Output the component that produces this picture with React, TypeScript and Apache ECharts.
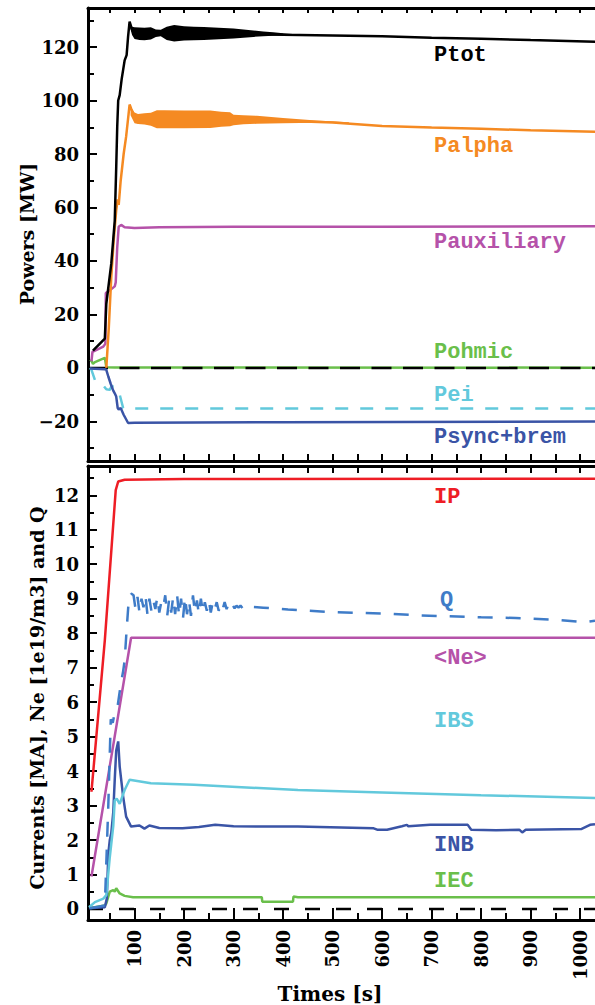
import React, { useEffect, useRef } from "react";
import * as echarts from "echarts";

// ---------- top panel: powers [MW] ----------
const ptotT = [16, 40, 43, 53, 60, 63, 65, 67, 70, 74, 80, 84, 87, 90, 95, 100, 150, 200, 300, 400, 500, 600, 700, 800, 900, 1030];
const ptotV = [6.5, 11, 24, 39, 55, 75, 90, 100, 102, 108, 115, 117, 124, 129.5, 126.5, 125.2, 125, 125.1, 125.1, 124.6, 124.3, 124, 123.5, 123.1, 122.6, 122];
const ptotBandT = [90, 95, 100, 110, 120, 133, 143, 153, 165, 180, 200, 220, 240, 260, 280, 300, 320, 340, 360, 380, 400, 420, 460];
const ptotBandHi = [129.5, 127.6, 127.4, 127.3, 127.2, 127.4, 126.6, 126.5, 127.6, 128.2, 127.8, 127.6, 127.5, 127.3, 127.1, 126.9, 126.6, 126.2, 125.8, 125.5, 125.2, 124.9, 124.6];
const ptotBandLo = [128, 124.5, 123, 122.6, 122.5, 122.8, 123.8, 124, 122.6, 122.1, 122.4, 122.5, 122.6, 122.8, 123, 123.2, 123.5, 123.8, 124, 124.2, 124.3, 124.4, 124.4];

const palphaT = [43, 48, 53, 58, 63, 66, 68, 72, 78, 83, 88, 90, 93, 100, 150, 250, 300, 400, 500, 600, 700, 800, 900, 1030];
const palphaV = [0, 15, 34, 48, 59, 63, 61, 70, 80, 86.5, 95, 98.5, 97, 94, 93.2, 93, 92.8, 92.4, 91.8, 90.5, 89.9, 89.4, 88.9, 88.3];
const palphaBandT = [92, 100, 107, 120, 133, 145, 160, 200, 253, 275, 293, 300, 320, 347, 400, 467, 533];
const palphaBandHi = [97.5, 95.5, 95, 95.2, 95.4, 96.4, 96.4, 96.3, 96.3, 95.8, 95.6, 94.7, 94.5, 94.3, 93.5, 92.5, 91.9];
const palphaBandLo = [94.5, 91.5, 91.2, 91, 90.6, 89.6, 89.6, 89.6, 89.7, 90.2, 90.4, 90.8, 91.1, 91.3, 91.5, 91.7, 91.6];

const pauxT = [13, 15, 37, 41, 42, 50, 60, 62, 65, 68, 73, 80, 100, 150, 300, 600, 1030];
const pauxV = [2.5, 6, 8, 9, 28, 29, 30.5, 32, 45, 52.8, 53.5, 52.6, 52.3, 52.6, 52.8, 52.8, 53];

const pohmicT = [10, 13, 16, 20, 40, 43, 60, 1030];
const pohmicV = [2.5, 2.8, 1.5, 2.2, 3.8, 0.3, 0.2, 0.1];

const peiT = [10, 13, 20, 30, 43, 50, 53, 60, 67, 70, 77, 90, 1030];
const peiV = [0, -0.7, -4.5, -5, -8, -8.2, -7, -6.8, -9.5, -10, -15, -15.2, -15.2];

const psyncT = [10, 40, 43, 47, 52, 57, 60, 63, 66, 68, 72, 78, 87, 100, 400, 1030];
const psyncV = [-0.2, -0.5, -0.7, -3.2, -6, -8.5, -9.5, -10.7, -15, -15.5, -15, -17.5, -20.6, -20.5, -20.3, -20];

// ---------- bottom panel: currents [MA], Ne, Q ----------
const ipT = [13, 40, 62, 67, 80, 200, 1030];
const ipV = [3.4, 7.8, 12.15, 12.4, 12.45, 12.47, 12.48];

const neT = [13, 93, 1030];
const neV = [0.94, 7.87, 7.87];

const qT = [10, 40, 47, 52, 56, 60, 66, 72, 77, 80, 84, 88, 93,
  98, 102, 106, 110, 114, 118, 122, 126, 130, 134, 138, 142, 146, 150, 154, 158, 162, 166, 170, 174, 178, 182, 186, 190,
  194, 198, 202, 206, 210, 214, 218, 222, 226, 230, 234, 238, 242, 246, 250, 254, 258, 262, 266, 270, 274, 278, 282, 286,
  290, 294, 298, 302, 306, 310, 314, 318, 322, 326, 330, 334, 338,
  360, 410, 500, 620, 670, 800, 870, 960, 1010, 1030];
const qV = [0.02, 0.1, 3.0, 5.5, 5.4, 5.7, 5.9, 6.5, 6.9, 7.2, 8.1, 8.9, 9.15,
  9.1, 8.7, 9.05, 8.6, 9.0, 8.75, 9.1, 8.55, 9.0, 8.65, 8.95, 8.7, 9.05, 8.6, 8.9, 8.75, 9.1, 8.5, 9.0, 8.6, 9.05, 8.55, 9.1, 8.5,
  9.0, 8.45, 9.05, 8.55, 8.95, 8.5, 9.1, 8.6, 8.95, 8.55, 9.0, 8.6, 8.9, 8.65, 8.95, 8.6, 8.9, 8.7, 8.9, 8.65, 8.85, 8.7, 8.9, 8.7,
  8.85, 8.72, 8.82, 8.72, 8.8, 8.74, 8.8, 8.73, 8.78, 8.74, 8.77, 8.75, 8.76,
  8.74, 8.69, 8.61, 8.56, 8.52, 8.46, 8.44, 8.38, 8.32, 8.36];

const ibsT = [8, 20, 37, 43, 50, 57, 60, 64, 70, 80, 90, 133, 220, 430, 600, 800, 1030];
const ibsV = [0.05, 0.2, 0.3, 0.4, 1.5, 2.4, 3.15, 3.2, 3.05, 3.45, 3.75, 3.65, 3.6, 3.45, 3.38, 3.3, 3.22];

const inbT = [8, 40, 44, 47, 50, 53, 57, 60, 63, 67, 70, 77, 83, 93, 110, 120, 130, 150, 197, 230, 263, 300, 397, 430, 583, 590, 610, 640, 650, 653, 697, 773, 780, 830, 877, 883, 890, 1003, 1020, 1030];
const inbV = [0.02, 0.05, 0.3, 1.6, 2.0, 2.2, 2.8, 3.75, 4.6, 4.86, 4.13, 3.26, 2.68, 2.39, 2.42, 2.33, 2.42, 2.35, 2.34, 2.38, 2.44, 2.4, 2.39, 2.39, 2.34, 2.3, 2.3, 2.4, 2.44, 2.4, 2.44, 2.44, 2.3, 2.28, 2.3, 2.22, 2.3, 2.32, 2.44, 2.46];

const iecT = [8, 40, 43, 50, 57, 60, 63, 70, 80, 97, 357, 358, 420, 421, 430, 1030];
const iecV = [0.02, 0.1, 0.16, 0.5, 0.55, 0.5, 0.6, 0.45, 0.38, 0.34, 0.34, 0.21, 0.21, 0.36, 0.34, 0.34];

const zeroT = [6, 1030];
const zeroV = [0, 0];

// ticks
const xMajor = [100, 200, 300, 400, 500, 600, 700, 800, 900, 1000];
const xAll = [50, 100, 150, 200, 250, 300, 350, 400, 450, 500, 550, 600, 650, 700, 750, 800, 850, 900, 950, 1000];
const xMinor = [50, 150, 250, 350, 450, 550, 650, 750, 850, 950];
const yTopMajor = [-20, 0, 20, 40, 60, 80, 100, 120];
const yTopMinor = [-30, -10, 10, 30, 50, 70, 90, 110, 130];
const yBotMajor = [0, 1, 2, 3, 4, 5, 6, 7, 8, 9, 10, 11, 12];
const yBotMinor = [0.5, 1.5, 2.5, 3.5, 4.5, 5.5, 6.5, 7.5, 8.5, 9.5, 10.5, 11.5, 12.5];

const C = {
  black: "#000000",
  orange: "#f58a22",
  magenta: "#b552a9",
  green: "#6abf4b",
  cyan: "#62c9dc",
  navy: "#3a54a6",
  red: "#ee1d25",
  qblue: "#3f7cc8",
};

const pairs = (t: number[], v: number[]) => t.map((x, i) => [x, v[i]]);

const line = (name: string, t: number[], v: number[], color: string, gi: number, opts: any = {}) => ({
  name,
  type: "line",
  xAxisIndex: gi === 0 ? 1 : 3,
  yAxisIndex: gi === 0 ? 0 : 2,
  data: pairs(t, v),
  showSymbol: false,
  symbol: "none",
  silent: true,
  clip: true,
  lineStyle: { color, width: 2.5, ...(opts.lineStyle || {}) },
  z: opts.z ?? 3,
});

const band = (t: number[], lo: number[], hi: number[], color: string, gi: number) => ({
  type: "custom",
  coordinateSystem: "cartesian2d",
  xAxisIndex: gi === 0 ? 1 : 3,
  yAxisIndex: gi === 0 ? 0 : 2,
  silent: true,
  z: 4,
  data: [[t[0], lo[0]]],
  renderItem: (_p: any, api: any) => {
    const up = t.map((x, i) => api.coord([x, hi[i]]));
    const dn = t.map((x, i) => api.coord([x, lo[i]])).reverse();
    return { type: "polygon", shape: { points: up.concat(dn) }, style: { fill: color } };
  },
});

const axisLine = { show: true, onZero: false, lineStyle: { color: "#000", width: 3 } };
const tickFont = { fontFamily: "DejaVu Serif", fontWeight: "bold", fontSize: 18, color: "#000" };
const fmt = (v: number) => String(v).replace("-", "\u2212");

const xAx = (gridIndex: number, position: string, ticks: number[], len: number, extra: any = {}) => ({
  type: "value",
  gridIndex,
  position,
  min: 6,
  max: 1030,
  axisLine: extra.noLine ? { show: false, onZero: false } : axisLine,
  axisTick: { show: true, inside: true, length: len, customValues: ticks, lineStyle: { color: "#000", width: 2 } },
  axisLabel: extra.labels
    ? { show: true, customValues: xMajor, rotate: 90, margin: 10, formatter: fmt, ...tickFont }
    : { show: false },
  splitLine: { show: false },
});

const yAx = (gridIndex: number, min: number, max: number, ticks: number[], len: number, labels: boolean) => ({
  type: "value",
  gridIndex,
  position: "left",
  min,
  max,
  axisLine: labels ? axisLine : { show: false, onZero: false },
  axisTick: { show: true, inside: true, length: len, customValues: ticks, lineStyle: { color: "#000", width: 2 } },
  axisLabel: labels ? { show: true, customValues: ticks, margin: 9, formatter: fmt, ...tickFont } : { show: false },
  splitLine: { show: false },
});

const labelFont = "Liberation Mono";
const lbl = (text: string, x: number, y: number, color: string) => ({
  type: "text",
  x,
  y,
  silent: true,
  style: { text, fill: color, font: `bold 22px '${labelFont}'`, textAlign: "left", textVerticalAlign: "middle" },
});

export default function App() {
  const ref = useRef<HTMLDivElement>(null);
  useEffect(() => {
    document.body.style.margin = "0";
    if (!ref.current) return;
    const chart = echarts.init(ref.current, undefined, { renderer: "svg" });
    chart.setOption({
      animation: false,
      backgroundColor: "#ffffff",
      grid: [
        { left: 88, top: 8, width: 512, height: 453 },
        { left: 88, top: 466, width: 512, height: 454 },
      ],
      xAxis: [
        xAx(0, "top", xAll, 5),
        xAx(0, "bottom", xAll, 7),
        xAx(1, "top", xAll, 7),
        xAx(1, "bottom", xMajor, 12, { labels: true }),
        xAx(1, "bottom", xMinor, 7, { noLine: true }),
      ],
      yAxis: [
        yAx(0, -34.8, 134.6, yTopMajor, 9, true),
        yAx(0, -34.8, 134.6, yTopMinor, 6, false),
        yAx(1, -0.32, 12.85, yBotMajor, 9, true),
        yAx(1, -0.32, 12.85, yBotMinor, 6, false),
      ],
      series: [
        line("Pohmic", pohmicT, pohmicV, C.green, 0, { z: 2 }),
        line("zeroTop", zeroT, zeroV, C.black, 0, { z: 3, lineStyle: { type: [20, 11.5], width: 2.5 } }),
        line("Pei", peiT, peiV, C.cyan, 0, { lineStyle: { type: [13, 12] } }),
        line("Psync+brem", psyncT, psyncV, C.navy, 0),
        line("Pauxiliary", pauxT, pauxV, C.magenta, 0),
        line("Palpha", palphaT, palphaV, C.orange, 0),
        band(palphaBandT, palphaBandLo, palphaBandHi, C.orange, 0),
        line("Ptot", ptotT, ptotV, C.black, 0, { z: 5 }),
        band(ptotBandT, ptotBandLo, ptotBandHi, C.black, 0),

        line("IEC", iecT, iecV, C.green, 1, { z: 2 }),
        line("zeroBot", zeroT, zeroV, C.black, 1, { z: 3, lineStyle: { type: [15, 16], width: 2.5 } }),
        line("INB", inbT, inbV, C.navy, 1),
        line("IBS", ibsT, ibsV, C.cyan, 1),
        line("<Ne>", neT, neV, C.magenta, 1),
        line("Q", qT, qV, C.qblue, 1, { lineStyle: { type: [15, 13] } }),
        line("IP", ipT, ipV, C.red, 1),
      ],
      graphic: [
        lbl("Ptot", 434, 55, C.black),
        lbl("Palpha", 434, 146, C.orange),
        lbl("Pauxiliary", 434, 242, C.magenta),
        lbl("Pohmic", 434, 352, C.green),
        lbl("Pei", 434, 395, C.cyan),
        lbl("Psync+brem", 434, 437, C.navy),
        lbl("IP", 434, 497, C.red),
        lbl("Q", 440, 600, C.qblue),
        lbl("<Ne>", 434, 658, C.magenta),
        lbl("IBS", 434, 721, C.cyan),
        lbl("INB", 434, 845, C.navy),
        lbl("IEC", 434, 881, C.green),
        {
          type: "text",
          x: 27,
          y: 234,
          rotation: Math.PI / 2,
          silent: true,
          style: { text: "Powers [MW]", fill: "#000", font: "bold 19px 'DejaVu Serif'", textAlign: "center", textVerticalAlign: "middle" },
        },
        {
          type: "text",
          x: 37,
          y: 698,
          rotation: Math.PI / 2,
          silent: true,
          style: { text: "Currents [MA], Ne [1e19/m3] and Q", fill: "#000", font: "bold 19px 'DejaVu Serif'", textAlign: "center", textVerticalAlign: "middle" },
        },
        {
          type: "text",
          x: 330,
          y: 994,
          silent: true,
          style: { text: "Times [s]", fill: "#000", font: "bold 20px 'DejaVu Serif'", textAlign: "center", textVerticalAlign: "middle" },
        },
      ],
    });
    return () => chart.dispose();
  }, []);
  return <div ref={ref} style={{ width: 595, height: 1005 }} />;
}
